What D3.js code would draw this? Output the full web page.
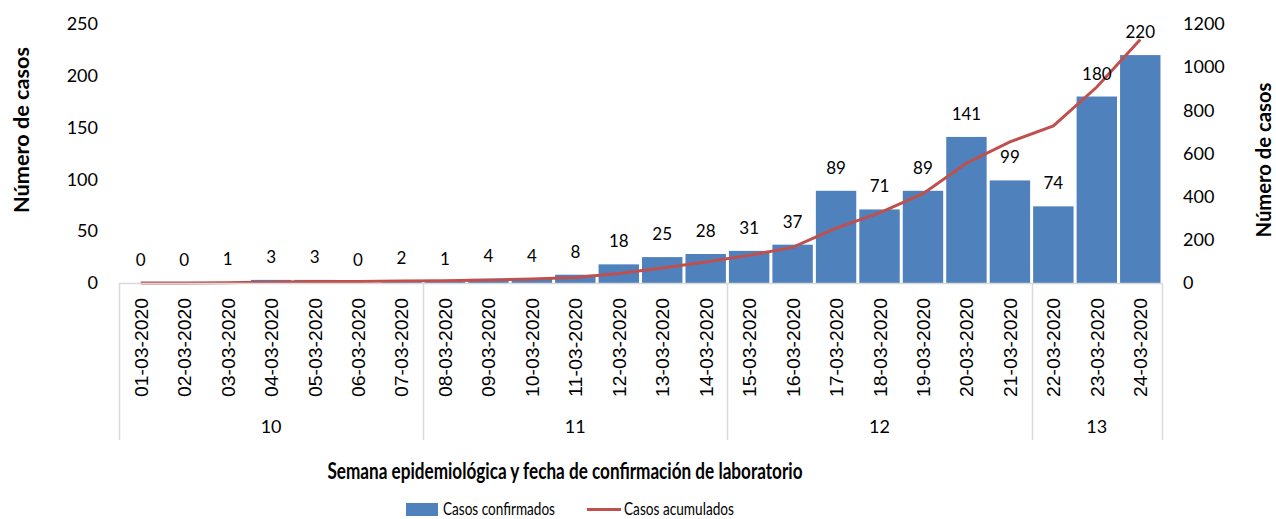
<!DOCTYPE html>
<meta charset="utf-8">
<script src="https://d3js.org/d3.v7.min.js"></script>
<style>
  body { margin: 0; background: #fff; }
  text { font-family: Lato, "Open Sans", sans-serif; fill: #000; }
</style>
<div id="chart"></div>
<script>

// data
var dates = ["01-03-2020","02-03-2020","03-03-2020","04-03-2020","05-03-2020","06-03-2020","07-03-2020",
             "08-03-2020","09-03-2020","10-03-2020","11-03-2020","12-03-2020","13-03-2020","14-03-2020",
             "15-03-2020","16-03-2020","17-03-2020","18-03-2020","19-03-2020","20-03-2020","21-03-2020",
             "22-03-2020","23-03-2020","24-03-2020"];
var confirmed = [0,0,1,3,3,0,2,1,4,4,8,18,25,28,31,37,89,71,89,141,99,74,180,220];
var cumulative = [0,0,1,4,7,7,9,10,14,18,26,44,69,97,128,165,254,325,414,555,654,728,908,1128];
var weeks = ["10","11","12","13"];
var weekSizes = [7,7,7,3];
var leftTicks = [0,50,100,150,200,250];
var rightTicks = [0,200,400,600,800,1000,1200];

var W = 1276, H = 519;
var plotLeft = 119, plotRight = 1162, plotTop = 24, plotBottom = 283;

var svg = d3.select("#chart").append("svg")
  .attr("width", W).attr("height", H);

var x = d3.scaleBand().domain(dates).range([plotLeft, plotRight]).paddingInner(0.07).paddingOuter(0.035);
var y = d3.scaleLinear().domain([0, 250]).range([plotBottom, plotTop]);
var y2 = d3.scaleLinear().domain([0, 1200]).range([plotBottom, plotTop]);

// bars
svg.selectAll(".bar")
  .data(confirmed)
  .enter().append("rect")
    .attr("x", function(d, i) { return x(dates[i]); })
    .attr("y", function(d) { return y(d); })
    .attr("width", x.bandwidth())
    .attr("height", function(d) { return plotBottom - y(d); })
    .attr("fill", "#4F81BD");

// cumulative line
var line = d3.line()
  .x(function(d, i) { return x(dates[i]) + x.bandwidth() / 2; })
  .y(function(d) { return y2(d); });
svg.append("path")
  .datum(cumulative)
  .attr("d", line)
  .attr("fill", "none")
  .attr("stroke", "#C0504D")
  .attr("stroke-width", 3);

// value labels
svg.selectAll(".lbl")
  .data(confirmed)
  .enter().append("text")
    .attr("x", function(d, i) { return x(dates[i]) + x.bandwidth() / 2; })
    .attr("y", function(d) { return y(d) - 17; })
    .attr("text-anchor", "middle")
    .attr("font-size", 17)
    .text(function(d) { return d; });

// left axis
var la = svg.append("g").attr("transform", "translate(" + plotLeft + ",0)")
  .call(d3.axisLeft(y).tickValues(leftTicks).tickSize(0).tickPadding(21));
la.select(".domain").remove();
la.selectAll("text").attr("font-size", 18).style("font-family", "Lato, sans-serif");

// right axis
var ra = svg.append("g").attr("transform", "translate(" + plotRight + ",0)")
  .call(d3.axisRight(y2).tickValues(rightTicks).tickFormat(d3.format("d")).tickSize(0).tickPadding(21));
ra.select(".domain").remove();
ra.selectAll("text").attr("font-size", 18).style("font-family", "Lato, sans-serif");

// category axis frame
var grey = "#D9D9D9";
svg.append("line").attr("x1", plotLeft).attr("x2", plotRight).attr("y1", plotBottom + 0.5).attr("y2", plotBottom + 0.5)
  .attr("stroke", grey).attr("stroke-width", 1.5);

var start = 0, seps = [plotLeft];
weekSizes.forEach(function(n, k) {
  var i0 = start, i1 = start + n - 1;
  var x0 = k === 0 ? plotLeft : x(dates[i0]) - x.step() * x.paddingInner() / 2;
  var x1 = k === weekSizes.length - 1 ? plotRight : x(dates[i1]) + x.bandwidth() + x.step() * x.paddingInner() / 2;
  svg.append("text")
    .attr("x", (x0 + x1) / 2).attr("y", 433)
    .attr("text-anchor", "middle").attr("font-size", 18)
    .text(weeks[k]);
  seps.push(x1);
  start += n;
});
svg.selectAll(".sep")
  .data(seps)
  .enter().append("line")
    .attr("x1", function(d) { return Math.round(d) + 0.5; })
    .attr("x2", function(d) { return Math.round(d) + 0.5; })
    .attr("y1", plotBottom).attr("y2", 440)
    .attr("stroke", grey).attr("stroke-width", 1.5);

// date labels
svg.selectAll(".date")
  .data(dates)
  .enter().append("text")
    .attr("transform", function(d) {
      return "translate(" + (x(d) + x.bandwidth() / 2 + 7) + ",298) rotate(-90)";
    })
    .attr("text-anchor", "end")
    .attr("font-size", 19)
    .attr("textLength", 99)
    .attr("lengthAdjust", "spacingAndGlyphs")
    .style("font-family", "'Liberation Sans', Arial, sans-serif")
    .text(function(d) { return d; });

// axis titles
svg.append("text")
  .attr("transform", "translate(29,130) rotate(-90)")
  .attr("text-anchor", "middle").attr("font-size", 20).attr("font-weight", "bold")
  .attr("textLength", 166).attr("lengthAdjust", "spacingAndGlyphs")
  .text("Número de casos");
svg.append("text")
  .attr("transform", "translate(1271,160) rotate(-90)")
  .attr("text-anchor", "middle").attr("font-size", 20).attr("font-weight", "bold")
  .attr("textLength", 155).attr("lengthAdjust", "spacingAndGlyphs")
  .text("Número de casos");
svg.append("text")
  .attr("x", 565).attr("y", 479)
  .attr("text-anchor", "middle").attr("font-size", 23).attr("font-weight", "bold")
  .attr("textLength", 475).attr("lengthAdjust", "spacingAndGlyphs")
  .text("Semana epidemiológica y fecha de confirmación de laboratorio");

// legend
var lg = svg.append("g");
lg.append("rect").attr("x", 406).attr("y", 503).attr("width", 32).attr("height", 13).attr("fill", "#4F81BD");
lg.append("text").attr("x", 443).attr("y", 515).attr("font-size", 18)
  .attr("textLength", 112).attr("lengthAdjust", "spacingAndGlyphs").text("Casos confirmados");
lg.append("line").attr("x1", 587).attr("x2", 621).attr("y1", 509.5).attr("y2", 509.5)
  .attr("stroke", "#C0504D").attr("stroke-width", 3);
lg.append("text").attr("x", 624).attr("y", 515).attr("font-size", 18)
  .attr("textLength", 110).attr("lengthAdjust", "spacingAndGlyphs").text("Casos acumulados");

</script>
